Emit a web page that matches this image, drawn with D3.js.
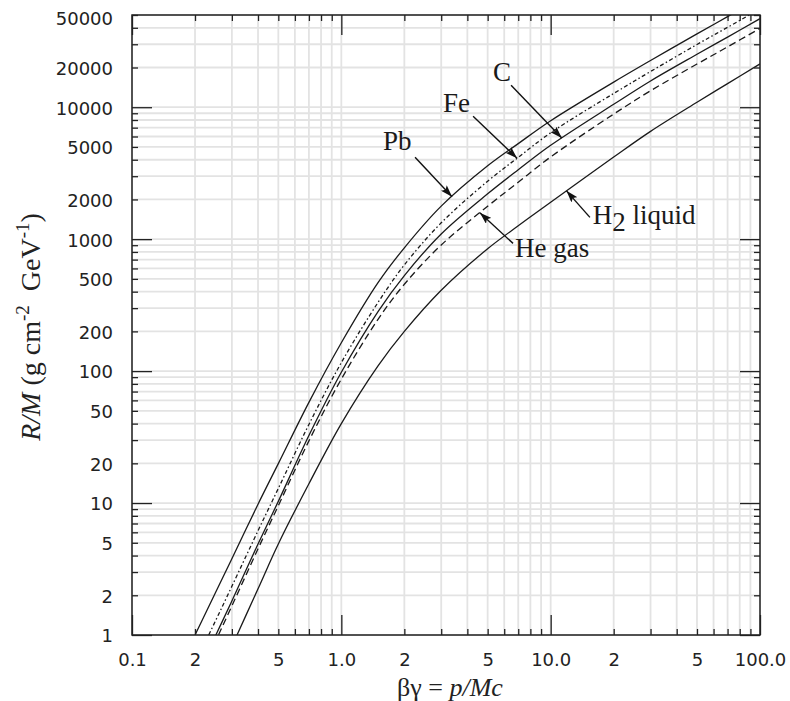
<!DOCTYPE html>
<html>
<head>
<meta charset="utf-8">
<script src="https://cdn.jsdelivr.net/npm/d3@7/dist/d3.min.js"></script>
<style>
  body { margin: 0; background: #fff; }
  text { white-space: pre; }
</style>
</head>
<body>
<script>
// values (R/M in g cm^-2 GeV^-1 against beta*gamma)
var betaGamma = [0.2, 0.25, 0.3, 0.4, 0.5, 0.7, 1, 1.5, 2, 3, 5, 7, 10, 20, 30, 50, 70, 100];
var rangePb = [1.0, 2.08, 3.78, 9.8, 19.9, 58, 164, 470, 860, 1780, 3600, 5300, 7900, 15500, 22600, 36000, 48600, 67000];
var rangeFe = [0.61, 1.27, 2.34, 6.17, 12.9, 39.4, 116, 333, 638, 1330, 2750, 4170, 6400, 12710, 18650, 29880, 40340, 55610];
var rangeC  = [0.47, 0.98, 1.81, 4.9, 10.3, 32.5, 98, 284, 530, 1096, 2208, 3358, 5143, 10520, 15820, 25200, 34000, 46900];
var rangeHe = [0.42, 0.89, 1.66, 4.5, 9.55, 29.6, 87, 248, 455, 903, 1776, 2700, 4200, 8870, 13330, 21240, 28670, 39530];
var rangeH2 = [0.2, 0.43, 0.82, 2.24, 4.9, 14, 40, 110, 200, 410, 846, 1263, 1907, 4190, 6560, 10900, 15100, 21300];

var xTickVals = [0.1, 0.2, 0.5, 1, 2, 5, 10, 20, 50, 100];
var xTickLabels = ["0.1", "2", "5", "1.0", "2", "5", "10.0", "2", "5", "100.0"];
var yTickVals = [1, 2, 5, 10, 20, 50, 100, 200, 500, 1000, 2000, 5000, 10000, 20000, 50000];
var yTickLabels = ["1", "2", "5", "10", "20", "50", "100", "200", "500", "1000", "2000", "5000", "10000", "20000", "50000"];

var width = 790, height = 701;
var pLeft = 132, pRight = 760, pTop = 15, pBottom = 635;

var svg = d3.select("body").append("svg")
    .attr("width", width).attr("height", height);

var x = d3.scaleLog().domain([0.1, 100]).range([pLeft, pRight]);
var y = d3.scaleLog().domain([1, 50000]).range([pBottom, pTop]);

// grid + tick positions: every 1..9 of each decade
function decadeSteps(lo, hi) {
    var out = [];
    for (var d = lo; d < hi * 0.999; d *= 10) {
        for (var k = 1; k <= 9; k++) {
            var v = d * k;
            if (v <= hi * 1.0001) out.push(+v.toPrecision(6));
        }
    }
    return out;
}
var xAll = decadeSteps(0.1, 100).concat([100]);
var yAll = decadeSteps(1, 50000);
var isDecade = function (v) { return Math.abs(Math.log10(v) - Math.round(Math.log10(v))) < 1e-6; };
var xMinor = xAll.filter(function (v) { return !isDecade(v); });
var xMajor = xAll.filter(isDecade);
var yMinor = yAll.filter(function (v) { return !isDecade(v); });
var yMajor = yAll.filter(isDecade);

var grid = svg.append("g").attr("stroke", "#e3e3e3").attr("stroke-width", 1.8);
grid.selectAll(".gx").data(xAll).enter().append("line")
    .attr("x1", function (d) { return x(d); }).attr("x2", function (d) { return x(d); })
    .attr("y1", pTop).attr("y2", pBottom);
grid.selectAll(".gy").data(yAll).enter().append("line")
    .attr("y1", function (d) { return y(d); }).attr("y2", function (d) { return y(d); })
    .attr("x1", pLeft).attr("x2", pRight);

// curves
var series = [
    { name: "Pb", values: rangePb, dash: null },
    { name: "Fe", values: rangeFe, dash: "4,2.5,1.5,2.5" },
    { name: "C", values: rangeC, dash: null },
    { name: "He", values: rangeHe, dash: "7,4" },
    { name: "H2", values: rangeH2, dash: null }
];

svg.append("clipPath").attr("id", "plotclip").append("rect")
    .attr("x", pLeft).attr("y", pTop).attr("width", pRight - pLeft).attr("height", pBottom - pTop);

var line = d3.line()
    .x(function (d) { return x(d[0]); })
    .y(function (d) { return y(d[1]); })
    .curve(d3.curveCatmullRom.alpha(0.5));

svg.append("g").attr("clip-path", "url(#plotclip)")
    .selectAll("path").data(series).enter().append("path")
    .attr("d", function (s) { return line(betaGamma.map(function (b, i) { return [b, s.values[i]]; })); })
    .attr("fill", "none")
    .attr("stroke", "#1a1a1a")
    .attr("stroke-width", 1.3)
    .attr("stroke-dasharray", function (s) { return s.dash; });

// ticks, inside, on all four sides
function tickAxis(axis, vals, size, tx, ty) {
    var g = svg.append("g").attr("transform", "translate(" + tx + "," + ty + ")")
        .call(axis.tickValues(vals).tickSize(size).tickFormat(""));
    g.select(".domain").remove();
    g.selectAll("line").attr("stroke", "#222").attr("stroke-width", 1.3);
}
tickAxis(d3.axisBottom(x), xMinor, -6, 0, pBottom);
tickAxis(d3.axisBottom(x), xMajor, -20, 0, pBottom);
tickAxis(d3.axisTop(x), xMinor, -6, 0, pTop);
tickAxis(d3.axisTop(x), xMajor, -20, 0, pTop);
tickAxis(d3.axisLeft(y), yMinor, -6, pLeft, 0);
tickAxis(d3.axisLeft(y), yMajor, -20, pLeft, 0);
tickAxis(d3.axisRight(y), yMinor, -6, pRight, 0);
tickAxis(d3.axisRight(y), yMajor, -20, pRight, 0);

svg.append("rect")
    .attr("x", pLeft).attr("y", pTop).attr("width", pRight - pLeft).attr("height", pBottom - pTop)
    .attr("fill", "none").attr("stroke", "#222").attr("stroke-width", 1.5);

// tick labels
var xLab = svg.append("g").attr("transform", "translate(0," + pBottom + ")")
    .call(d3.axisBottom(x).tickValues(xTickVals)
        .tickFormat(function (d, i) { return xTickLabels[i]; })
        .tickSize(0).tickPadding(18));
var yLab = svg.append("g").attr("transform", "translate(" + pLeft + ",0)")
    .call(d3.axisLeft(y).tickValues(yTickVals)
        .tickFormat(function (d, i) { return yTickLabels[i]; })
        .tickSize(0).tickPadding(19));
[xLab, yLab].forEach(function (g) {
    g.select(".domain").remove();
    g.selectAll("text").attr("font-family", "DejaVu Sans").attr("font-size", 18).attr("fill", "#222");
});
yLab.selectAll("text").attr("dy", function (d) { return d === 50000 ? "0.55em" : "0.38em"; });

// axis titles
var serif = "Liberation Serif";
var xt = svg.append("text")
    .attr("x", 450).attr("y", 696)
    .attr("text-anchor", "middle")
    .attr("font-family", serif).attr("font-size", 26).attr("fill", "#222");
xt.append("tspan").text("βγ = ");
xt.append("tspan").attr("font-style", "italic").text("p/Mc");

var yt = svg.append("text")
    .attr("transform", "translate(40,327) rotate(-90)")
    .attr("text-anchor", "middle")
    .attr("font-family", serif).attr("font-size", 28).attr("fill", "#222");
yt.append("tspan").attr("font-style", "italic").text("R/M");
yt.append("tspan").text(" (g cm");
yt.append("tspan").attr("dy", -11).attr("font-size", 19).text("-2");
yt.append("tspan").attr("dy", 11).text("  GeV");
yt.append("tspan").attr("dy", -11).attr("font-size", 19).text("-1");
yt.append("tspan").attr("dy", 11).text(")");

// labels with arrows, placed in data coordinates
function valueAt(vals, b) {
    var lb = Math.log10(b);
    for (var i = 0; i < betaGamma.length - 1; i++) {
        var a0 = Math.log10(betaGamma[i]), a1 = Math.log10(betaGamma[i + 1]);
        if (lb >= a0 && lb <= a1) {
            var t = (lb - a0) / (a1 - a0);
            return Math.pow(10, Math.log10(vals[i]) * (1 - t) + Math.log10(vals[i + 1]) * t);
        }
    }
    return vals[vals.length - 1];
}

svg.append("defs").append("marker")
    .attr("id", "head").attr("viewBox", "0 0 12 8")
    .attr("refX", 12).attr("refY", 4)
    .attr("markerWidth", 12).attr("markerHeight", 8)
    .attr("markerUnits", "userSpaceOnUse")
    .attr("orient", "auto")
    .append("path").attr("d", "M0,0 L12,4 L0,8 L2.5,4 Z").attr("fill", "#111");

var notes = [
    { text: "Pb", lx: 1.58, ly: 4700, tx: 2.25, ty: 4170, tip: 3.38, vals: rangePb },
    { text: "Fe", lx: 3.06, ly: 9160, tx: 4.26, ty: 8550, tip: 6.91, vals: rangeFe },
    { text: "C", lx: 5.31, ly: 15700, tx: 6.47, ty: 14700, tip: 11.3, vals: rangeC },
    { text: "He gas", lx: 6.76, ly: 727, tx: 6.61, ty: 929, tip: 4.59, vals: rangeHe },
    { text: "H2", lx: 15.9, ly: 1294, tx: 15.4, ty: 1462, tip: 11.9, vals: rangeH2 }
];

notes.forEach(function (n) {
    svg.append("line")
        .attr("x1", x(n.tx)).attr("y1", y(n.ty))
        .attr("x2", x(n.tip)).attr("y2", y(valueAt(n.vals, n.tip)))
        .attr("stroke", "#111").attr("stroke-width", 1.4)
        .attr("marker-end", "url(#head)");
    var t = svg.append("text")
        .attr("x", x(n.lx)).attr("y", y(n.ly))
        .attr("font-family", serif).attr("font-size", 27).attr("fill", "#1a1a1a");
    if (n.text === "H2") {
        t.append("tspan").text("H");
        t.append("tspan").attr("dy", 7).text("2");
        t.append("tspan").attr("dy", -7).text(" liquid");
    } else {
        t.text(n.text);
    }
});
</script>
</body>
</html>
